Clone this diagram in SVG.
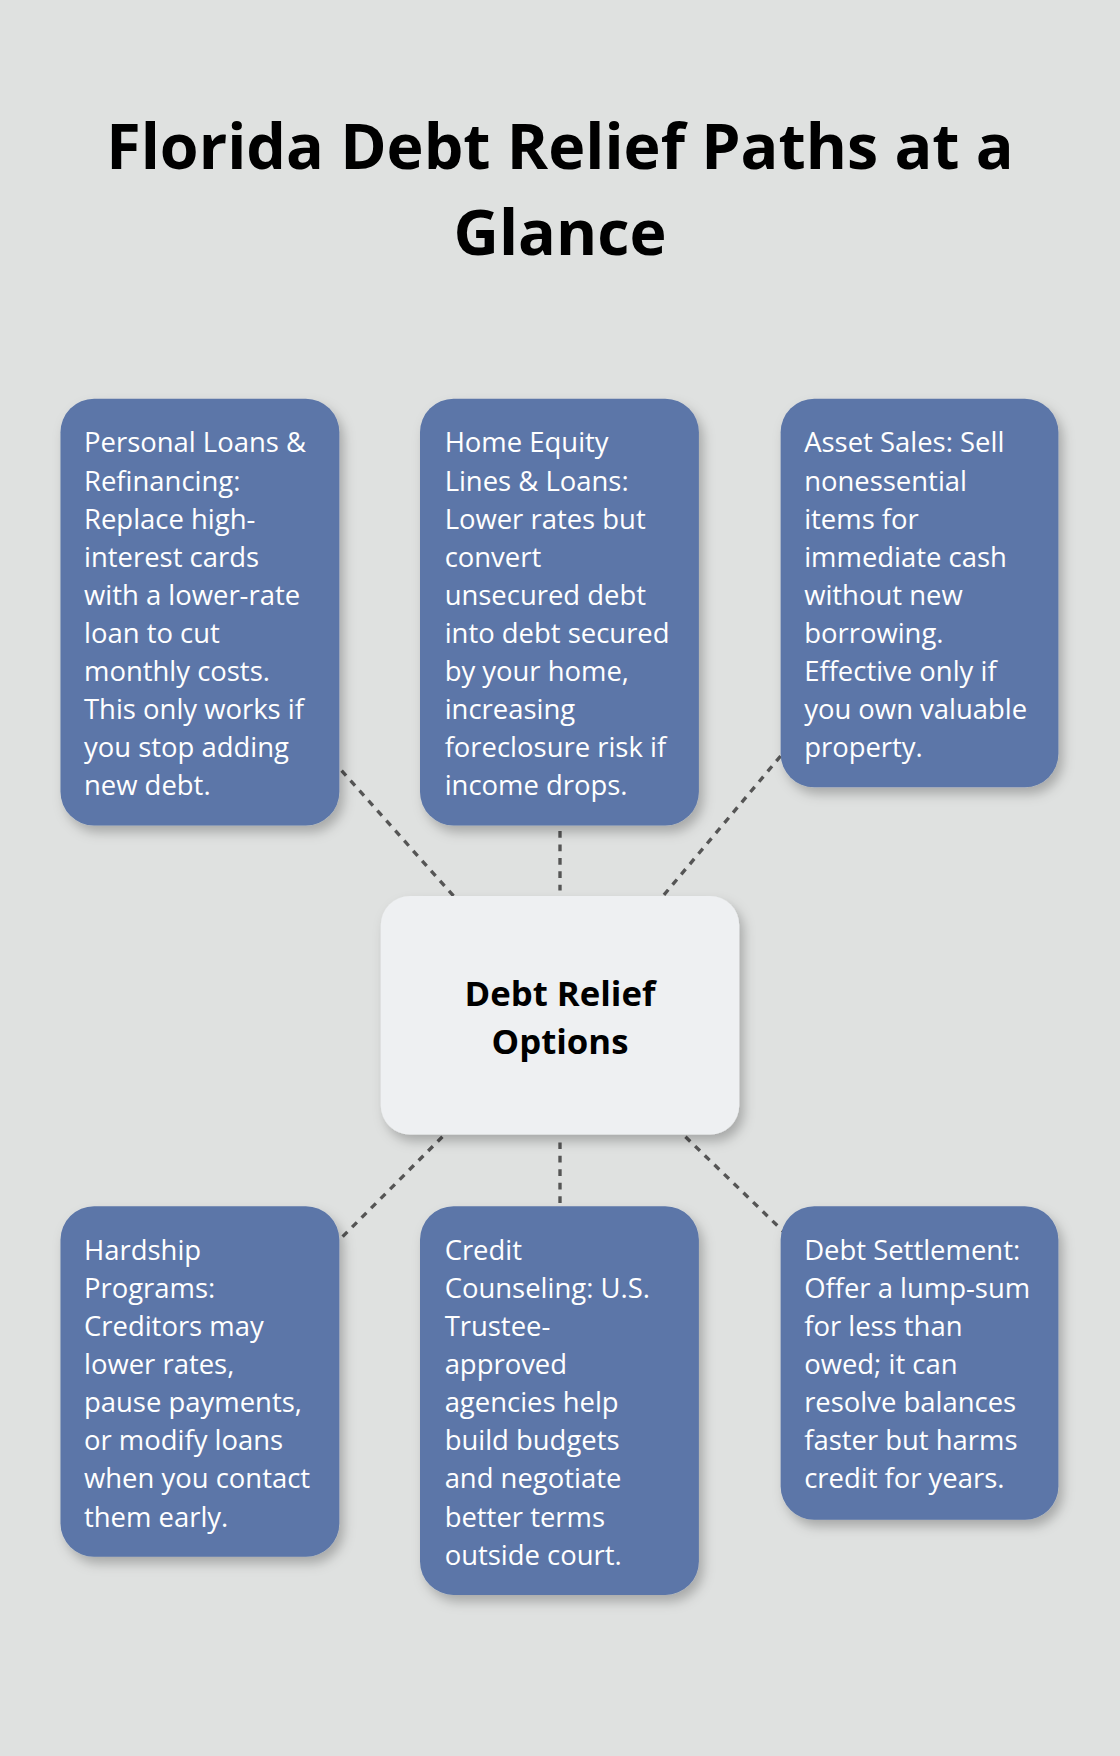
<svg xmlns="http://www.w3.org/2000/svg" width="1120" height="1756" viewBox="0 0 1120 1756">
<defs>
<style>
.box{fill:#5b76a8}
.t{font-family:"Open Sans","Noto Sans",sans-serif;font-size:24.5px;fill:#ffffff}
.c{stroke:#555;stroke-width:3;stroke-dasharray:6 6;fill:none}
.ti{font-family:"Open Sans","Noto Sans",sans-serif;font-weight:bold;font-size:56px;fill:#000;text-anchor:middle}
.ct{font-family:"Open Sans","Noto Sans",sans-serif;font-weight:bold;font-size:31px;fill:#000;text-anchor:middle}
</style>
<filter id="sh" x="-20%" y="-20%" width="140%" height="140%"><feDropShadow dx="4" dy="6" stdDeviation="5" flood-color="#000" flood-opacity="0.25"/></filter>
</defs>
<rect width="1120" height="1756" fill="#dfe1e0"/>
<g transform="scale(1.12)">
<text class="ti" x="500" y="151">Florida Debt Relief Paths at a</text>
<text class="ti" x="500" y="228">Glance</text>
<g id="connectors">
<line class="c" x1="305" y1="688" x2="405" y2="800"/>
<line class="c" x1="500" y1="742" x2="500" y2="795"/>
<line class="c" x1="697" y1="675" x2="592" y2="800"/>
<line class="c" x1="395" y1="1015" x2="305" y2="1105"/>
<line class="c" x1="500" y1="1020" x2="500" y2="1075"/>
<line class="c" x1="612" y1="1015" x2="700" y2="1100"/>
</g>
<g id="n1"><rect class="box" filter="url(#sh)" x="54" y="356" width="249" height="381" rx="30"/>
<text class="t" x="75" y="404">Personal Loans &amp;<tspan x="75" dy="34">Refinancing:</tspan><tspan x="75" dy="34">Replace high-</tspan><tspan x="75" dy="34">interest cards</tspan><tspan x="75" dy="34">with a lower-rate</tspan><tspan x="75" dy="34">loan to cut</tspan><tspan x="75" dy="34">monthly costs.</tspan><tspan x="75" dy="34">This only works if</tspan><tspan x="75" dy="34">you stop adding</tspan><tspan x="75" dy="34">new debt.</tspan></text></g>
<g id="n2"><rect class="box" filter="url(#sh)" x="375" y="356" width="249" height="381" rx="30"/>
<text class="t" x="397" y="404">Home Equity<tspan x="397" dy="34">Lines &amp; Loans:</tspan><tspan x="397" dy="34">Lower rates but</tspan><tspan x="397" dy="34">convert</tspan><tspan x="397" dy="34">unsecured debt</tspan><tspan x="397" dy="34">into debt secured</tspan><tspan x="397" dy="34">by your home,</tspan><tspan x="397" dy="34">increasing</tspan><tspan x="397" dy="34">foreclosure risk if</tspan><tspan x="397" dy="34">income drops.</tspan></text></g>
<g id="n3"><rect class="box" filter="url(#sh)" x="697" y="356" width="248" height="347" rx="30"/>
<text class="t" x="718" y="404">Asset Sales: Sell<tspan x="718" dy="34">nonessential</tspan><tspan x="718" dy="34">items for</tspan><tspan x="718" dy="34">immediate cash</tspan><tspan x="718" dy="34">without new</tspan><tspan x="718" dy="34">borrowing.</tspan><tspan x="718" dy="34">Effective only if</tspan><tspan x="718" dy="34">you own valuable</tspan><tspan x="718" dy="34">property.</tspan></text></g>
<g id="center"><rect fill="#eef0f2" filter="url(#sh)" x="340" y="800" width="320" height="213" rx="26"/>
<text class="ct" x="500" y="898">Debt Relief</text><text class="ct" x="500" y="941">Options</text></g>
<g id="n4"><rect class="box" filter="url(#sh)" x="54" y="1077" width="249" height="313" rx="30"/>
<text class="t" x="75" y="1125">Hardship<tspan x="75" dy="34">Programs:</tspan><tspan x="75" dy="34">Creditors may</tspan><tspan x="75" dy="34">lower rates,</tspan><tspan x="75" dy="34">pause payments,</tspan><tspan x="75" dy="34">or modify loans</tspan><tspan x="75" dy="34">when you contact</tspan><tspan x="75" dy="34">them early.</tspan></text></g>
<g id="n5"><rect class="box" filter="url(#sh)" x="375" y="1077" width="249" height="347" rx="30"/>
<text class="t" x="397" y="1125">Credit<tspan x="397" dy="34">Counseling: U.S.</tspan><tspan x="397" dy="34">Trustee-</tspan><tspan x="397" dy="34">approved</tspan><tspan x="397" dy="34">agencies help</tspan><tspan x="397" dy="34">build budgets</tspan><tspan x="397" dy="34">and negotiate</tspan><tspan x="397" dy="34">better terms</tspan><tspan x="397" dy="34">outside court.</tspan></text></g>
<g id="n6"><rect class="box" filter="url(#sh)" x="697" y="1077" width="248" height="280" rx="30"/>
<text class="t" x="718" y="1125">Debt Settlement:<tspan x="718" dy="34">Offer a lump-sum</tspan><tspan x="718" dy="34">for less than</tspan><tspan x="718" dy="34">owed; it can</tspan><tspan x="718" dy="34">resolve balances</tspan><tspan x="718" dy="34">faster but harms</tspan><tspan x="718" dy="34">credit for years.</tspan></text></g>
</g>
</svg>
